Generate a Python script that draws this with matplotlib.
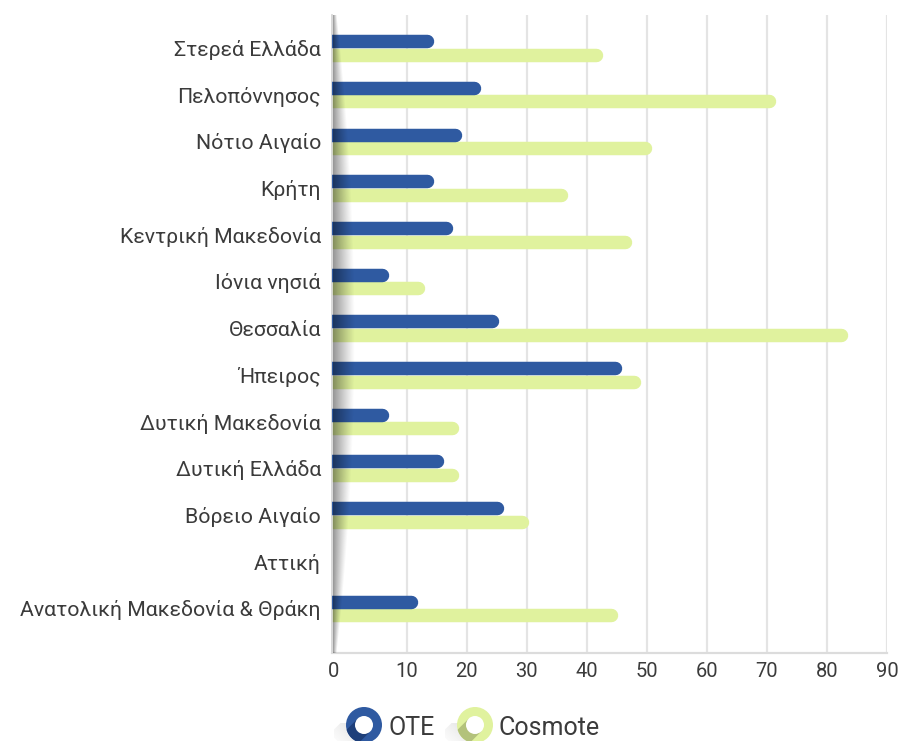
import numpy as np
import matplotlib
matplotlib.use("Agg")
import matplotlib.pyplot as plt
from matplotlib import transforms
from matplotlib.patches import Circle, Polygon

plt.rcParams['font.family'] = ['Roboto', 'DejaVu Sans']

# ---- data -------------------------------------------------------------
regions = [
    "Στερεά Ελλάδα", "Πελοπόννησος", "Νότιο Αιγαίο", "Κρήτη",
    "Κεντρική Μακεδονία", "Ιόνια νησιά", "Θεσσαλία", "Ήπειρος",
    "Δυτική Μακεδονία", "Δυτική Ελλάδα", "Βόρειο Αιγαίο", "Αττική",
    "Ανατολική Μακεδονία & Θράκη",
]
ote = [14.5, 22.3, 19.2, 14.5, 17.6, 7.1, 25.3, 45.9, 7.1, 16.1, 26.1, 0, 11.8]
cosmote = [42.7, 71.4, 50.9, 36.9, 47.5, 13.0, 83.5, 49.0, 18.7, 18.7, 30.3, 0, 45.1]
series_names = ["OTE", "Cosmote"]
tick_values = [0, 10, 20, 30, 40, 50, 60, 70, 80, 90]

# ---- style ------------------------------------------------------------
BLUE, BLUE_DARK = "#2f5aa1", "#1e3f7a"
GREEN, GREEN_DARK = "#e0f29e", "#b3c27b"
GRID = "#e4e4e4"
TEXT = "#3b3b3b"
W, H = 899, 741
XMIN, XMAX = -2.43, 90
BAR_LW = 9.7  # points

fig = plt.figure(figsize=(W / 100, H / 100), dpi=100)
fig.patch.set_facecolor("white")

left, right, top, bottom = 332, 887, 15, 652.7
ax = fig.add_axes([left / W, 1 - bottom / H, (right - left) / W, (bottom - top) / H])
ax.set_facecolor("white")

# grid lines
for v in tick_values[1:]:
    ax.axvline(v, color=GRID, lw=1.6, zorder=0)

# rounded bars: shifted left by the cap radius so the visible end sits on the value
shift = transforms.offset_copy(ax.transData, fig=fig, x=-BAR_LW / 2, y=0, units="points")
off = 0.145
for i, (a, b) in enumerate(zip(ote, cosmote)):
    if a > 0:
        ax.plot([XMIN, a], [i - off, i - off], color=BLUE, lw=BAR_LW,
                solid_capstyle="round", transform=shift, zorder=3)
    if b > 0:
        ax.plot([XMIN, b], [i + off, i + off], color=GREEN, lw=BAR_LW,
                solid_capstyle="round", transform=shift, zorder=2)

ax.set_xlim(XMIN, XMAX)
ax.set_ylim(12.95, -0.707)

ax.set_yticks(range(len(regions)))
ax.set_yticklabels(regions, fontsize=15.3, color=TEXT)
ax.set_xticks([XMIN + 0.3] + tick_values[1:])
ax.set_xticklabels([str(t) for t in tick_values], fontsize=14.5, color=TEXT)
ax.tick_params(axis="both", length=0)
ax.tick_params(axis="y", pad=8)
ax.tick_params(axis="x", pad=7)

for s in ["top", "right"]:
    ax.spines[s].set_visible(False)
ax.spines["bottom"].set_color("#dcdcdc")
ax.spines["bottom"].set_linewidth(1.6)
ax.spines["left"].set_color("#d2d2d2")
ax.spines["left"].set_linewidth(1.2)

# ---- overlay in pixel coordinates: axis shadow and legend --------------
ov = fig.add_axes([0, 0, 1, 1], zorder=5)
ov.set_xlim(0, W)
ov.set_ylim(H, 0)
ov.axis("off")
ov.patch.set_alpha(0)

# soft shadow along the category axis
sh_w = 28
ys = np.linspace(top, bottom, 400)
xs = np.arange(sh_w) + 0.5
yc, yh = (top + bottom) / 2, (bottom - top) / 2
width = 4 + 18 * (1 - ((ys - yc) / yh) ** 2)
alpha = np.clip(1 - xs[None, :] / width[:, None], 0, 1) ** 1.1 * 0.42
img = np.zeros((len(ys), sh_w, 4))
img[..., 3] = alpha
ov.imshow(img, extent=[left + 0.5, left + 0.5 + sh_w, bottom, top], origin="upper",
          aspect="auto", interpolation="bilinear", zorder=1)


def ring_marker(cx, cy, color, dark):
    R, r = 18, 9
    d = np.array([-1.0, 1.0]) / np.sqrt(2)
    p = np.array([1.0, 1.0]) / np.sqrt(2)
    c = np.array([cx, cy])
    L = 30
    band = Polygon([c + R * p, c + R * p + L * d, c - R * p + L * d, c - R * p],
                   closed=True, facecolor="none", edgecolor="none")
    ov.add_patch(band)
    # gradient for the long shadow
    n = 60
    grad = np.zeros((n, n, 4))
    gy, gx = np.mgrid[0:n, 0:n] / (n - 1)
    t = np.clip((gy + (1 - gx)) / 2, 0, 1)  # grows toward lower-left
    grad[..., :3] = 0.6
    grad[..., 3] = 0.4 * (1 - t) ** 1.6
    im = ov.imshow(grad, extent=[cx - L, cx + 2, cy + L, cy - 2], origin="upper",
                   interpolation="bilinear", zorder=2)
    im.set_clip_path(band)
    ring = Circle((cx, cy), R, facecolor=color, edgecolor="none", zorder=3)
    ov.add_patch(ring)
    inner = Polygon([c + r * p, c + r * p + L * d, c - r * p + L * d, c - r * p],
                    closed=True, facecolor=dark, edgecolor="none", zorder=4)
    ov.add_patch(inner)
    inner.set_clip_path(ring)
    ov.add_patch(Circle((cx, cy), r, facecolor="white", edgecolor="none", zorder=5))


ring_marker(364, 725, BLUE, BLUE_DARK)
ov.text(388, 735, series_names[0], fontsize=18, color=TEXT, ha="left", va="baseline", zorder=6)
ring_marker(475, 725, GREEN, GREEN_DARK)
ov.text(499, 735, series_names[1], fontsize=18, color=TEXT, ha="left", va="baseline", zorder=6)

fig.savefig("out.png", dpi=100, facecolor="white")
